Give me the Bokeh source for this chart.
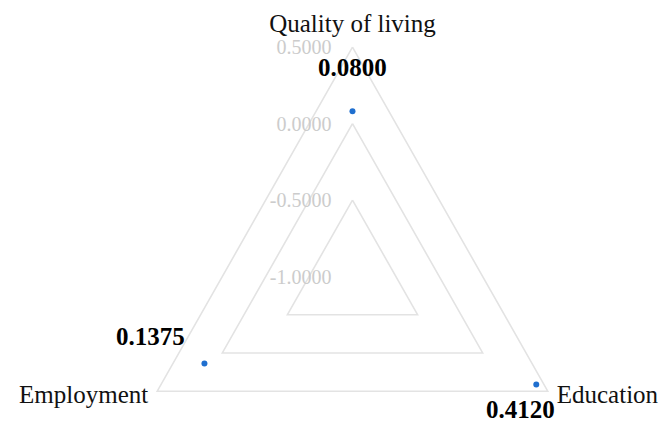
import math
from bokeh.plotting import figure
from bokeh.models import Range1d, ColumnDataSource
from bokeh.core.properties import value
from bokeh.embed import file_html
from bokeh.resources import INLINE

# ---- data ----
categories = ["Quality of living", "Education", "Employment"]
values = [0.0800, 0.4120, 0.1375]
value_labels = ["0.0800", "0.4120", "0.1375"]
ticks = [-1.0, -0.5, 0.0, 0.5]
tick_labels = ["-1.0000", "-0.5000", "0.0000", "0.5000"]

# ---- layout / style ----
r_min, r_max = -1.0, 0.5
angles_deg = [90, -30, 210]
cat_align = ["center", "left", "right"]
cat_xoff = [0, 9, -9]
cat_yoff = [-24, 3, 3.5]
val_xoff = [0, -16, -54]
val_yoff = [-44, 25, -27]

SERIF = value("Liberation Serif")


def radial(v):
    return v - r_min


def polar(r, ang):
    a = math.radians(ang)
    return r * math.cos(a), r * math.sin(a)


p = figure(width=664, height=423,
           x_range=Range1d(-2.342, 2.076), y_range=Range1d(-0.9614, 1.8051),
           output_backend="svg", toolbar_location=None, min_border=0)
p.axis.visible = False
p.grid.visible = False
p.outline_line_color = None
p.background_fill_color = "white"
p.border_fill_color = "white"

# grid triangles
gx, gy = [], []
for t in ticks:
    r = radial(t)
    if r <= 0:
        continue
    pts = [polar(r, a) for a in angles_deg]
    pts.append(pts[0])
    gx.append([q[0] for q in pts])
    gy.append([q[1] for q in pts])
p.multi_line(gx, gy, line_color="#e3e3e3", line_width=1.6, line_join="miter")

# tick labels
p.text(x=[0] * len(ticks), y=[radial(t) for t in ticks], text=tick_labels,
       x_offset=-21, text_align="right", text_baseline="middle",
       text_font=SERIF, text_font_size="20px", text_color="#cccccc")

# category labels
cx, cy = [], []
for a in angles_deg:
    x, y = polar(radial(r_max), a)
    cx.append(x)
    cy.append(y)
src_c = ColumnDataSource(dict(x=cx, y=cy, text=categories, align=cat_align,
                              xo=cat_xoff, yo=cat_yoff))
p.text(x="x", y="y", text="text", source=src_c, text_align="align",
       x_offset="xo", y_offset="yo", text_baseline="middle",
       text_font=SERIF, text_font_size="25px", text_color="#111111")

# data points
px, py = [], []
for v, a in zip(values, angles_deg):
    x, y = polar(radial(v), a)
    px.append(x)
    py.append(y)
src_v = ColumnDataSource(dict(x=px, y=py, text=value_labels, xo=val_xoff, yo=val_yoff))
p.scatter(x="x", y="y", source=src_v, size=6, color="#1f6fcf", line_color=None)
p.text(x="x", y="y", text="text", source=src_v, x_offset="xo", y_offset="yo",
       text_align="center", text_baseline="middle",
       text_font=SERIF, text_font_size="25px", text_font_style="bold",
       text_color="#000000")

open("out.html", "w").write(file_html(p, INLINE))
